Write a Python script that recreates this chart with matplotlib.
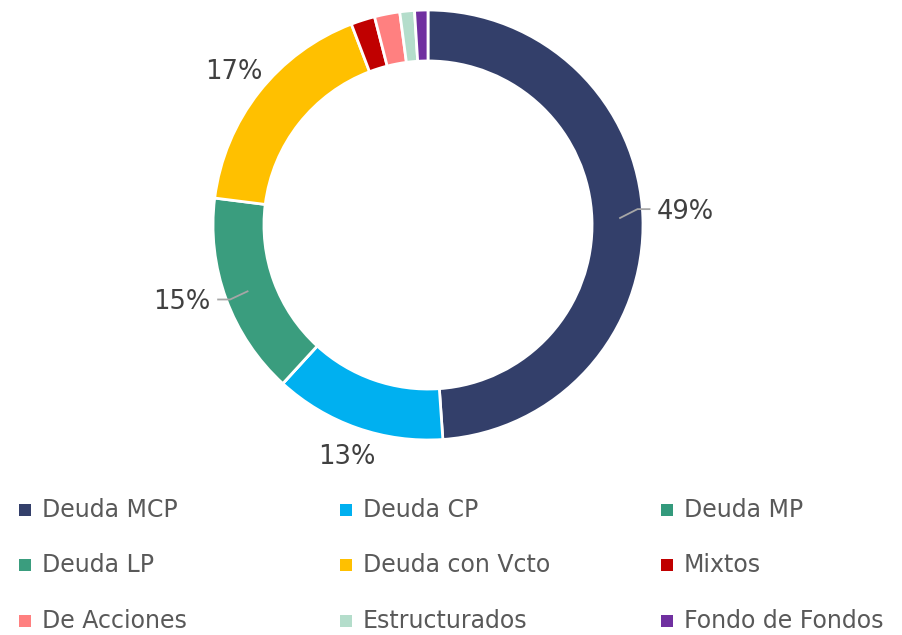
import matplotlib.pyplot as plt
import numpy as np
from matplotlib.patches import Rectangle

# data
categories = ['Deuda MCP', 'Deuda CP', 'Deuda MP', 'Deuda LP', 'Deuda con Vcto',
              'Mixtos', 'De Acciones', 'Estructurados', 'Fondo de Fondos']
shares = [48.9, 12.9, 0.0, 15.2, 17.2, 1.8, 1.9, 1.1, 1.0]
colors = ['#333F6A', '#00B0F0', '#339A7C', '#3A9D7E', '#FFC000',
          '#C00000', '#FF8080', '#B4DDCB', '#7030A0']
label_text = {0: '49%', 1: '13%', 3: '15%', 4: '17%'}
# (radial distance, angle shift in degrees) for each label
label_pos = {0: (1.19, 1.0), 1: (1.145, 0.0), 3: (1.215, -3.0), 4: (1.15, 0.0)}
leader = {0, 3}

W, H = 903, 635
fig = plt.figure(figsize=(W / 100, H / 100), dpi=100)

# donut axes: centre (428, 225) px, radius 215 px
cx, cy, R = 428, 225, 215
ax = fig.add_axes([(cx - R) / W, (H - cy - R) / H, 2 * R / W, 2 * R / H])
wedges, _ = ax.pie(shares, colors=colors, startangle=90, counterclock=False,
                   radius=1, wedgeprops=dict(width=0.237, edgecolor='white', linewidth=2))
ax.set_xlim(-1, 1)
ax.set_ylim(-1, 1)
ax.set_axis_off()

for i, w in enumerate(wedges):
    if i not in label_text:
        continue
    mid = (w.theta1 + w.theta2) / 2
    d, shift = label_pos[i]
    ang = np.deg2rad(mid + shift)
    tx, ty = d * np.cos(ang), d * np.sin(ang)
    if i in leader:
        side = np.sign(np.cos(ang))
        a0 = np.deg2rad(mid)
        x0, y0 = 0.89 * np.cos(a0), 0.89 * np.sin(a0)
        ex = x0 + side * 0.085
        fx = ex + side * 0.06
        ax.plot([x0, ex, fx], [y0, ty + 0.012, ty + 0.012], color='#A6A6A6', lw=1.3,
                clip_on=False, solid_capstyle='butt')
        ax.text(fx + side * 0.03, ty, label_text[i], ha='left' if side > 0 else 'right',
                va='center', fontsize=18.5, color='#404040', clip_on=False)
    else:
        ax.text(tx, ty, label_text[i], ha='center', va='center', fontsize=18.5,
                color='#404040', clip_on=False)

# legend laid out row by row in three columns
col_x = [19, 340, 661]
row_y = [510, 565, 621]
for i, name in enumerate(categories):
    r, c = divmod(i, 3)
    x, y = col_x[c], row_y[r]
    fig.patches.append(Rectangle((x / W, (H - y - 6) / H), 12 / W, 12 / H,
                                 transform=fig.transFigure, facecolor=colors[i],
                                 edgecolor='none'))
    fig.text((x + 23) / W, (H - y) / H, name, ha='left', va='center',
             fontsize=17, color='#595959')

fig.savefig('out.png', dpi=100)
